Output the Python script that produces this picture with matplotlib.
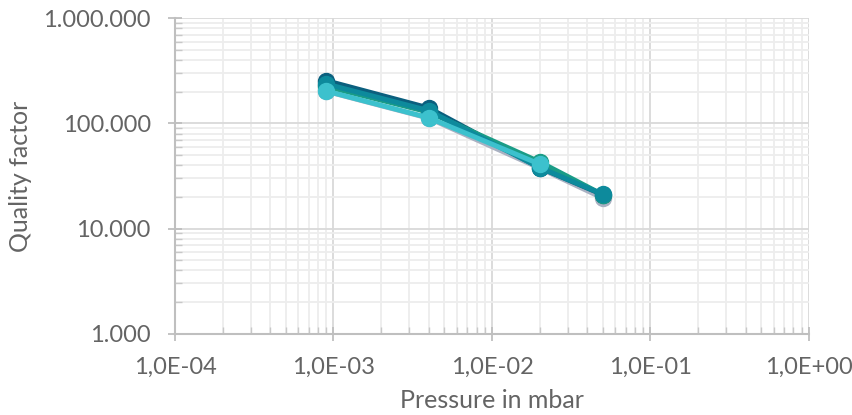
import matplotlib
matplotlib.use("Agg")
import matplotlib.pyplot as plt
import numpy as np
from matplotlib.ticker import LogLocator, FuncFormatter, NullFormatter

plt.rcParams['font.family'] = ['Lato', 'DejaVu Sans']

pressure = [9e-4, 4e-3, 2e-2, 5e-2]
q_shadow = [2.02e5, 1.12e5, 3.75e4, 1.95e4]
q_navy = [2.55e5, 1.40e5, 3.8e4, 2.10e4]
q_green = [2.25e5, 1.28e5, 4.3e4, 2.10e4]
q_teal = [2.37e5, 1.32e5, 3.8e4, 2.12e4]
q_cyan = [2.03e5, 1.13e5, 4.1e4, np.nan]

series = [
    (q_shadow, '#a9b1c2'),
    (q_navy, '#0b5f7e'),
    (q_green, '#1a9c86'),
    (q_teal, '#0d8a9c'),
    (q_cyan, '#3cc1cd'),
]

fig = plt.figure(figsize=(8.53, 4.15), dpi=100)
ax = fig.add_axes([0.2052, 0.196, 0.743, 0.760])

for vals, col in series:
    ax.plot(pressure, vals, color=col, lw=3.6, marker='o', ms=11.5,
            solid_capstyle='round', zorder=3)

ax.set_xscale('log')
ax.set_yscale('log')
ax.set_xlim(1e-4, 1e0)
ax.set_ylim(1e3, 1e6)

ax.xaxis.set_major_locator(LogLocator(base=10, numticks=10))
ax.xaxis.set_minor_locator(LogLocator(base=10, subs=range(2, 10), numticks=20))
ax.yaxis.set_major_locator(LogLocator(base=10, numticks=10))
ax.yaxis.set_minor_locator(LogLocator(base=10, subs=range(2, 10), numticks=20))


def xfmt(v, _):
    s = f"{v:.1E}"
    mant, exp = s.split('E')
    e = int(exp)
    return f"{mant.replace('.', ',')}E{'+' if e >= 0 else '-'}{abs(e):02d}"


def yfmt(v, _):
    return f"{int(round(v)):,}".replace(',', '.')


ax.xaxis.set_major_formatter(FuncFormatter(xfmt))
ax.yaxis.set_major_formatter(FuncFormatter(yfmt))
ax.xaxis.set_minor_formatter(NullFormatter())
ax.yaxis.set_minor_formatter(NullFormatter())

ax.grid(which='major', color='#d9d9d9', lw=1.3, zorder=0)
ax.grid(which='minor', color='#ededed', lw=1.3, zorder=0)
ax.set_axisbelow(True)

for side in ('top', 'right'):
    ax.spines[side].set_visible(False)
for side in ('left', 'bottom'):
    ax.spines[side].set_color('#bfbfbf')
    ax.spines[side].set_linewidth(1.5)

ax.tick_params(which='major', direction='inout', length=10, width=1.3,
               color='#bfbfbf', labelsize=17, labelcolor='#646464')
ax.tick_params(axis='y', which='major', pad=12.5)
ax.tick_params(axis='x', which='major', pad=11.5)
ax.tick_params(which='minor', direction='in', length=5, width=1.0,
               color='#c8c8c8')

ax.set_xlabel('Pressure in mbar', fontsize=18, color='#646464', labelpad=8)
ax.set_ylabel('Quality factor', fontsize=18, color='#646464', labelpad=8)

fig.savefig('out.png', dpi=100)
